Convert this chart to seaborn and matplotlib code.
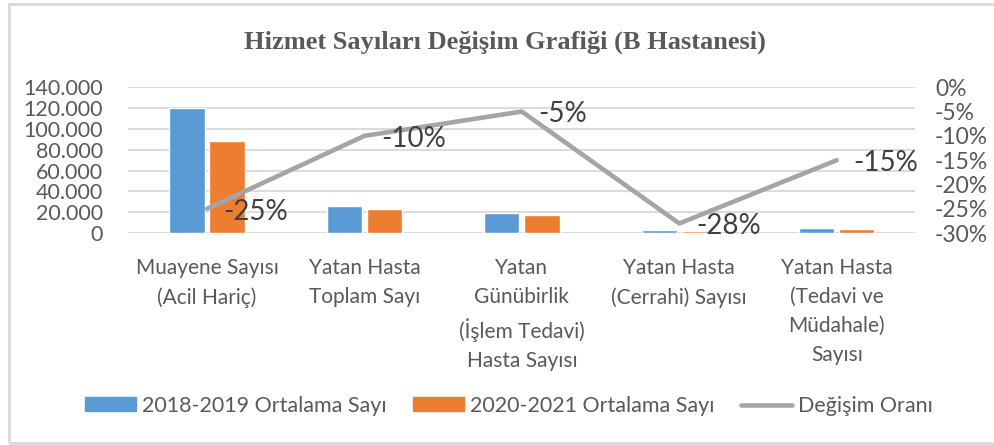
import numpy as np
import pandas as pd
import matplotlib
matplotlib.use("Agg")
import matplotlib.pyplot as plt
import seaborn as sns
from matplotlib.ticker import FuncFormatter
from matplotlib.patches import Patch, Rectangle
from matplotlib.lines import Line2D

# Data
categories = ["Muayene Sayısı\n(Acil Hariç)", "Yatan Hasta\nToplam Sayı",
              "Yatan\nGünübirlik\n(İşlem Tedavi)\nHasta Sayısı",
              "Yatan Hasta\n(Cerrahi) Sayısı",
              "Yatan Hasta\n(Tedavi ve\nMüdahale)\nSayısı"]
avg_2018_2019 = [119600, 25900, 18900, 3450, 5050]
avg_2020_2021 = [88500, 23500, 17300, 2480, 4300]
change_rate = [-0.25, -0.10, -0.05, -0.28, -0.15]
series_names = ["2018-2019 Ortalama Sayı", "2020-2021 Ortalama Sayı"]
line_name = "Değişim Oranı"

blue = "#5B9BD5"
orange = "#ED7D31"
gray = "#A5A5A5"
text_col = "#595959"

df = pd.DataFrame({
    "cat": categories * 2,
    "val": avg_2018_2019 + avg_2020_2021,
    "series": [series_names[0]] * 5 + [series_names[1]] * 5,
})

sns.set_style("white")
plt.rcParams["font.family"] = ["Lato", "DejaVu Sans"]

fig = plt.figure(figsize=(9.94, 4.45), dpi=100)
ax = fig.add_axes([0.129, 0.476, 0.792, 0.328])

sns.barplot(data=df, x="cat", y="val", hue="series", ax=ax,
            palette=[blue, orange], width=0.51, gap=0.12, legend=False,
            saturation=1)

ax.set_ylim(0, 140000)
ax.set_yticks(np.arange(0, 140001, 20000))
ax.yaxis.set_major_formatter(FuncFormatter(lambda v, p: f"{int(v):,}".replace(",", ".")))
ax.grid(axis="y", color="#D9D9D9", linewidth=1.3)
ax.set_axisbelow(True)
for s in ax.spines.values():
    s.set_visible(False)
ax.set_xlabel("")
ax.set_ylabel("")
ax.tick_params(axis="y", length=0, labelsize=15.5, labelcolor=text_col, pad=18)
ax.tick_params(axis="x", length=0, labelsize=15, labelcolor=text_col, pad=18)
for lbl in ax.get_xticklabels():
    lbl.set_linespacing(1.55)
ax.set_xlim(-0.5, len(categories) - 0.5)

ax2 = ax.twinx()
xpos = np.arange(len(categories))
sns.lineplot(x=xpos, y=change_rate, ax=ax2, color=gray, linewidth=3.3, legend=False)
ax2.set_ylim(-0.30, 0)
ax2.set_yticks(np.arange(-0.30, 0.001, 0.05))
ax2.yaxis.set_major_formatter(FuncFormatter(lambda v, p: f"{round(v * 100):d}%"))
for s in ax2.spines.values():
    s.set_visible(False)
ax2.tick_params(axis="y", length=0, labelsize=16.5, labelcolor=text_col, pad=14)
ax2.set_ylabel("")
ax2.set_xlim(-0.5, len(categories) - 0.5)

for x, v in zip(xpos, change_rate):
    ax2.annotate(f"{round(v * 100):d}%", (x, v), xytext=(12, -2),
                 textcoords="offset points", va="center", ha="left",
                 fontsize=20, color="#404040")

fig.text(0.508, 0.906, "Hizmet Sayıları Değişim Grafiği (B Hastanesi)",
         ha="center", va="center", fontsize=19, fontweight="bold",
         family="Liberation Serif", color="#595959")

handles = [Patch(color=blue, label=series_names[0]),
           Patch(color=orange, label=series_names[1]),
           Line2D([0], [0], color=gray, linewidth=3.3, label=line_name)]
leg = fig.legend(handles=handles, loc="center", bbox_to_anchor=(0.512, 0.088),
                 ncol=3, frameon=False, fontsize=15.5, handlelength=2.4,
                 handleheight=0.6, columnspacing=1.2, handletextpad=0.28)
for t in leg.get_texts():
    t.set_color(text_col)

fig.patches.append(Rectangle((0.009, 0.004), 1.2, 0.988, transform=fig.transFigure,
                             fill=False, edgecolor="#D9D9D9", linewidth=2))

fig.savefig("out.png", dpi=100)
